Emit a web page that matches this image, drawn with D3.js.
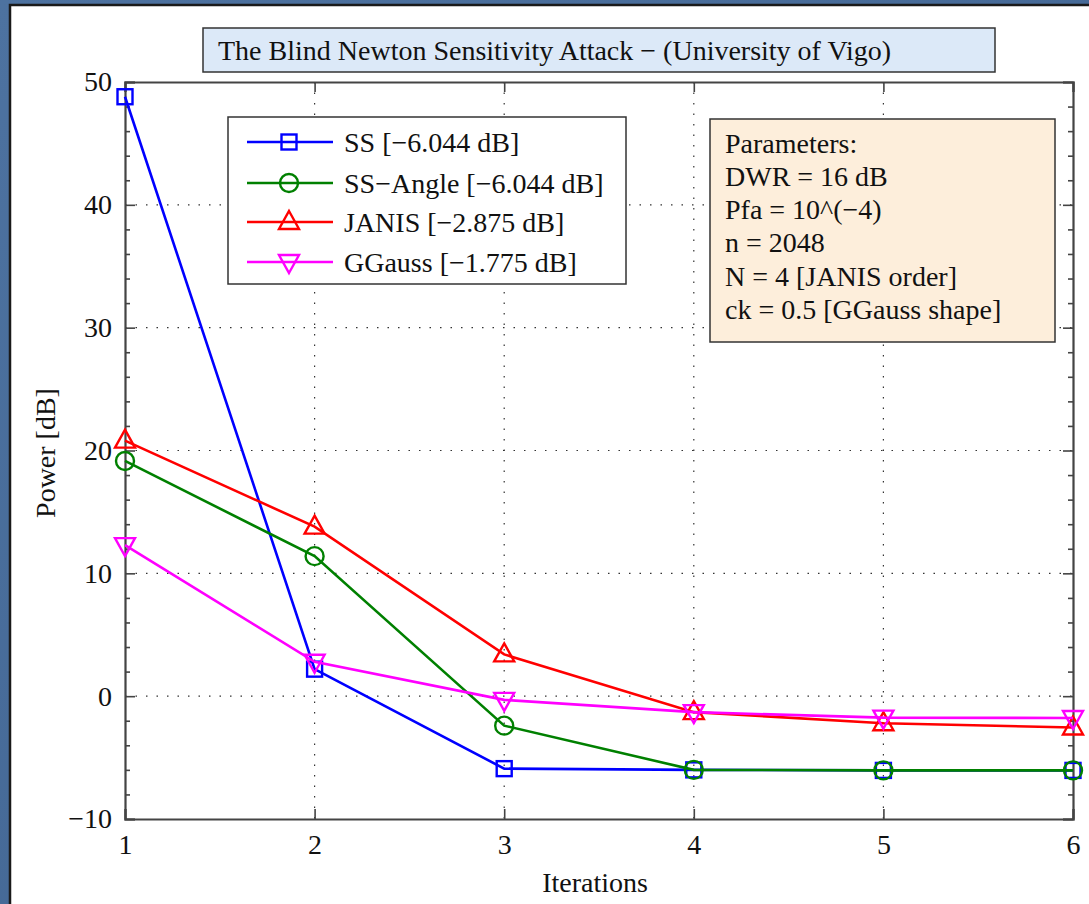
<!DOCTYPE html>
<html><head><meta charset="utf-8">
<script src="https://cdn.jsdelivr.net/npm/d3@7"></script>
<style>html,body{margin:0;padding:0;background:#46699a;}svg{display:block;}</style>
</head><body>
<script>
const iterations = [1, 2, 3, 4, 5, 6];
const ssValues = [48.8, 2.2, -5.9, -6.0, -6.044, -6.044];
const ssAngleValues = [19.15, 11.4, -2.4, -6.0, -6.044, -6.044];
const janisValues = [20.8, 13.8, 3.4, -1.3, -2.2, -2.55];
const ggaussValues = [12.3, 2.8, -0.3, -1.3, -1.75, -1.775];
const seriesNames = ["SS [\u22126.044 dB]", "SS\u2212Angle [\u22126.044 dB]", "JANIS [\u22122.875 dB]", "GGauss [\u22121.775 dB]"];
const xTicks = [1, 2, 3, 4, 5, 6];
const yTicks = [-10, 0, 10, 20, 30, 40, 50];
const paramLines = ["Parameters:", "DWR = 16 dB", "Pfa = 10^(\u22124)", "n = 2048", "N = 4 [JANIS order]", "ck = 0.5 [GGauss shape]"];
const titleText = "The Blind Newton Sensitivity Attack \u2212 (University of Vigo)";

const W = 1089, H = 904;
const font = "'Liberation Serif','DejaVu Serif',serif";
const FS = 28;
const svg = d3.select("body").append("svg").attr("width", W).attr("height", H);

const defs = svg.append("defs");
const lg = defs.append("linearGradient").attr("id","bg").attr("x1","0").attr("y1","0").attr("x2","1").attr("y2","1");
lg.append("stop").attr("offset","0").attr("stop-color","#4d72a0");
lg.append("stop").attr("offset","1").attr("stop-color","#3f628f");
svg.append("rect").attr("width", W).attr("height", H).attr("fill","url(#bg)");

// white panel
svg.append("rect").attr("x", 10).attr("y", 5).attr("width", W + 20).attr("height", H + 20)
  .attr("fill", "#fff").attr("stroke", "#1a1a1a").attr("stroke-width", 2.5);

const L = 125, R = 1073, T = 82, B = 819;
const x = d3.scaleLinear().domain([1, 6]).range([L, R]);
const y = d3.scaleLinear().domain([-10, 50]).range([B, T]);

const g = svg.append("g");
// grid
g.selectAll(".gx").data(xTicks.slice(1, -1)).join("line")
  .attr("x1", d => x(d)).attr("x2", d => x(d)).attr("y1", T).attr("y2", B)
  .attr("stroke", "#333").attr("stroke-width", 1.2).attr("stroke-dasharray", "1.5,9");
g.selectAll(".gy").data(yTicks.slice(1, -1)).join("line")
  .attr("y1", d => y(d)).attr("y2", d => y(d)).attr("x1", L).attr("x2", R)
  .attr("stroke", "#333").attr("stroke-width", 1.2).attr("stroke-dasharray", "1.5,9");

const minorY = d3.range(-10, 51, 2).filter(v => v % 10 !== 0);
const axL = d3.axisLeft(y).tickValues(yTicks).tickSize(-10).tickPadding(13).tickFormat(d => d < 0 ? "\u2212" + Math.abs(d) : d);
const axR = d3.axisRight(y).tickValues(yTicks).tickSize(-10).tickFormat("");
const axB = d3.axisBottom(x).tickValues(xTicks).tickSize(-10).tickPadding(15).tickFormat(d3.format("d"));
const axT = d3.axisTop(x).tickValues(xTicks).tickSize(-10).tickFormat("");
function styleAxis(sel) {
  sel.select(".domain").attr("stroke", "#444").attr("stroke-width", 2.2);
  sel.selectAll(".tick line").attr("stroke", "#444").attr("stroke-width", 1.6);
  sel.selectAll("text").attr("font-family", font).attr("font-size", FS).attr("fill", "#111");
}
g.append("g").attr("transform", `translate(${L},0)`).call(axL).call(styleAxis);
g.append("g").attr("transform", `translate(${R},0)`).call(axR).call(styleAxis);
g.append("g").attr("transform", `translate(0,${B})`).call(axB).call(styleAxis);
g.append("g").attr("transform", `translate(0,${T})`).call(axT).call(styleAxis);
g.append("g").attr("transform", `translate(${L},0)`).call(d3.axisLeft(y).tickValues(minorY).tickSize(-5).tickFormat("")).call(styleAxis).select(".domain").remove();
g.append("g").attr("transform", `translate(${R},0)`).call(d3.axisRight(y).tickValues(minorY).tickSize(-5).tickFormat("")).call(styleAxis).select(".domain").remove();

// axis labels
svg.append("text").attr("x", 595).attr("y", 892).attr("text-anchor", "middle")
  .attr("font-family", font).attr("font-size", FS).attr("fill", "#111").text("Iterations");
svg.append("text").attr("transform", `translate(55,453) rotate(-90)`).attr("text-anchor", "middle")
  .attr("font-family", font).attr("font-size", FS).attr("fill", "#111").text("Power [dB]");

function marker(sel, type, color) {
  if (type === "square") sel.append("rect").attr("x", -7.5).attr("y", -7.5).attr("width", 15).attr("height", 15);
  else if (type === "circle") sel.append("circle").attr("r", 9);
  else if (type === "up") sel.append("path").attr("d", "M0,-11 L10,7 L-10,7 Z");
  else sel.append("path").attr("d", "M0,11 L10,-7 L-10,-7 Z");
  sel.selectAll("*").attr("fill", "none").attr("stroke", color).attr("stroke-width", 2.4);
}
const series = [
  {vals: ssValues, color: "#0000ff", m: "square"},
  {vals: ssAngleValues, color: "#008000", m: "circle"},
  {vals: janisValues, color: "#ff0000", m: "up"},
  {vals: ggaussValues, color: "#ff00ff", m: "down"}
];
const line = d3.line().x(d => x(d[0])).y(d => y(d[1]));
series.forEach(s => {
  const pts = iterations.map((it, i) => [it, s.vals[i]]);
  svg.append("path").attr("d", line(pts)).attr("fill", "none").attr("stroke", s.color).attr("stroke-width", 2.6);
  pts.forEach(p => {
    const mg = svg.append("g").attr("transform", `translate(${x(p[0])},${y(p[1])})`);
    marker(mg, s.m, s.color);
  });
});

// title box
svg.append("rect").attr("x", 203).attr("y", 28).attr("width", 792).attr("height", 44)
  .attr("fill", "#dce9f8").attr("stroke", "#333").attr("stroke-width", 1.5);
svg.append("text").attr("x", 218).attr("y", 50).attr("dy", "0.35em").attr("text-anchor", "start")
  .attr("font-family", font).attr("font-size", FS).attr("fill", "#111").text(titleText);

// legend
svg.append("rect").attr("x", 228).attr("y", 117).attr("width", 398).attr("height", 167)
  .attr("fill", "#fff").attr("stroke", "#333").attr("stroke-width", 1.5);
const legY = [142, 183, 222, 262];
series.forEach((s, i) => {
  const ly = legY[i];
  svg.append("line").attr("x1", 247).attr("x2", 333).attr("y1", ly).attr("y2", ly).attr("stroke", s.color).attr("stroke-width", 2.6);
  const mg = svg.append("g").attr("transform", `translate(289,${ly})`);
  marker(mg, s.m, s.color);
  svg.append("text").attr("x", 344).attr("y", ly).attr("dy", "0.35em")
    .attr("font-family", font).attr("font-size", FS).attr("fill", "#111").text(seriesNames[i]);
});

// parameters box
svg.append("rect").attr("x", 710).attr("y", 119).attr("width", 345).attr("height", 223)
  .attr("fill", "#fdeedb").attr("stroke", "#333").attr("stroke-width", 1.5);
paramLines.forEach((t, i) => {
  svg.append("text").attr("x", 725).attr("y", 143 + i * 33.2).attr("dy", "0.35em")
    .attr("font-family", font).attr("font-size", FS).attr("fill", "#111").text(t);
});
</script>
</body></html>
